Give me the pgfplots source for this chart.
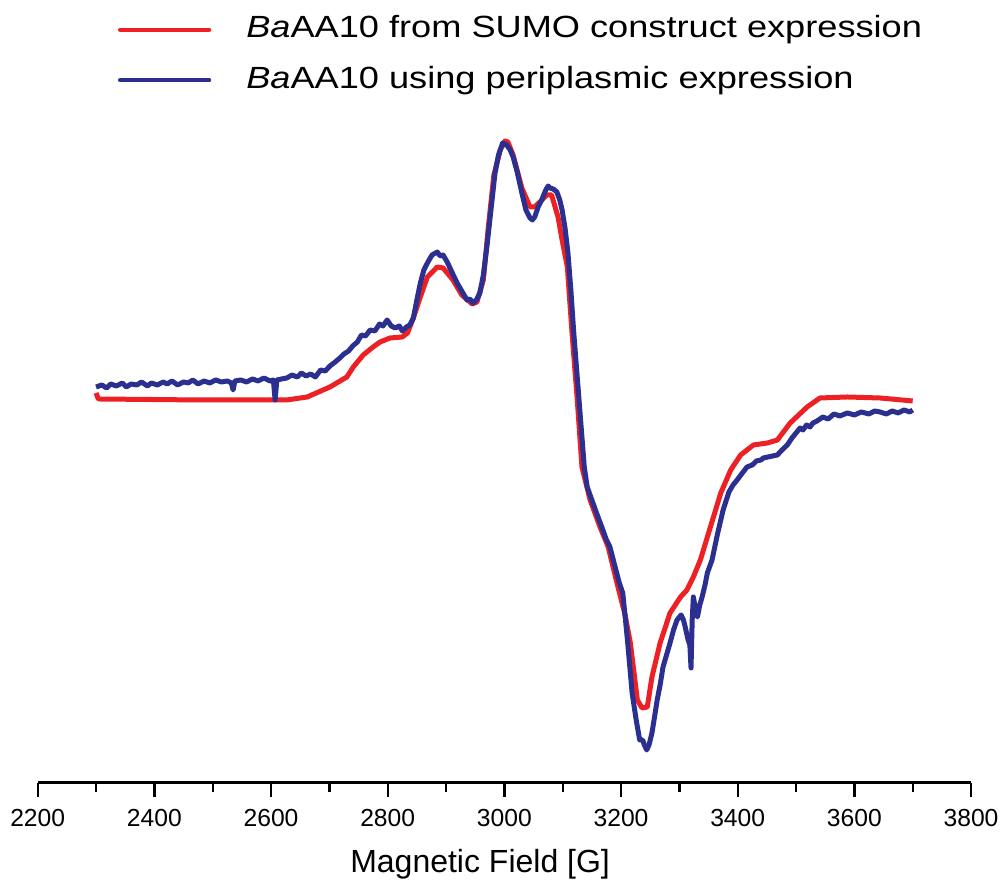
\documentclass[border=0pt]{standalone}
\usepackage{pgfplots}
\pgfplotsset{compat=1.18}
\usepackage{fontspec}
\setmainfont{Liberation Sans}
\newfontfamily\legfont[FakeStretch=1.18]{Liberation Sans}
\definecolor{cred}{RGB}{237,32,36}
\definecolor{cblue}{RGB}{43,48,144}
\begin{document}
\begin{tikzpicture}
\begin{axis}[
  name=ax,
  scale only axis,
  width=280pt, height=234.8pt,
  xmin=2200, xmax=3800, ymin=-782.7, ymax=0,
  axis x line*=bottom, axis y line=none,
  axis line style={line width=0.7pt},
  xtick={2200,2400,...,3800},
  minor x tick num=1,
  tick align=outside,
  major tick length=4.2pt, minor tick length=2.7pt,
  every tick/.style={line width=0.7pt, black},
  scaled x ticks=false,
  /pgf/number format/1000 sep={},
  /pgf/number format/assume math mode=true,
  xticklabel style={font=\fontsize{7.4}{8}\selectfont, inner sep=0pt, yshift=-3.6pt},
  xlabel={Magnetic Field [G]},
  xlabel style={font=\fontsize{9.6}{11}\selectfont, anchor=base, at={(axis description cs:0.474,0)}, yshift=-27pt},
  legend image code/.code={\draw[#1, line width=1.3pt, line cap=round] (0pt,0pt) -- (26.7pt,0pt);},
  legend cell align=left,
  legend style={draw=none, fill=none, inner sep=0pt, outer sep=0pt,
    at={(0.086,0.9297)}, anchor=west, row sep=6.6pt, column sep=10.5pt,
    font=\legfont\fontsize{9.2}{10}\selectfont,
    nodes={inner sep=0pt, text height=6.6pt, text depth=1.9pt}},
]
\addplot[cred, line width=1.5pt, line join=round] table {
2300 -393
2304 -399
2392 -399.5
2478 -400
2564 -400
2627 -400
2662 -397
2701 -387
2730 -377
2741 -367
2758 -355
2775 -347
2787 -342
2804 -338
2825 -337
2834 -333
2844 -318
2856 -297
2868 -277
2885 -267
2895 -268
2912 -280
2927 -295
2945 -304
2953 -302
2964 -280
2972 -230
2982 -175
2993 -150
3001 -141
3006 -142
3015 -155
3030 -188
3044 -207
3052 -207
3073 -195
3081 -195
3092 -217
3099 -240
3108 -267
3116 -333
3125 -400
3133 -467
3147 -500
3164 -527
3178 -547
3193 -583
3207 -615
3216 -643
3228 -700
3236 -708
3245 -707
3253 -677
3267 -643
3284 -613
3302 -597
3313 -590
3324 -577
3336 -560
3348 -537
3371 -493
3388 -470
3405 -455
3427 -445
3451 -443
3468 -440
3490 -423
3519 -407
3541 -398
3588 -397
3644 -398
3700 -401
};
\addlegendentry{\textit{Ba}AA10 from SUMO construct expression}
\addplot[cblue, line width=1.5pt, line join=round] table {
2300 -387
2310 -385
2318 -388
2325 -384
2335 -386
2345 -383
2352 -387
2360 -384
2370 -385
2378 -382
2388 -386
2395 -383
2405 -385
2415 -382
2422 -384
2430 -381
2440 -385
2450 -382
2458 -383
2466 -380
2475 -384
2485 -381
2495 -383
2505 -380
2515 -382
2525 -381
2532 -383
2535 -390
2538 -381
2548 -380
2558 -382
2568 -379
2578 -381
2588 -378
2598 -381
2604 -380
2607 -400
2610 -380
2618 -379
2627 -378
2636 -375
2645 -377
2652 -373
2660 -376
2668 -374
2676 -377
2685 -370
2693 -371
2701 -366
2710 -362
2718 -358
2725 -354
2733 -351
2740 -346
2748 -342
2755 -335
2762 -336
2770 -330
2778 -331
2786 -324
2792 -326
2799 -320
2806 -326
2813 -328
2820 -326
2825 -331
2832 -327
2838 -325
2844 -318
2850 -300
2856 -283
2862 -270
2869 -262
2876 -255
2885 -252
2890 -256
2895 -255
2902 -262
2910 -272
2919 -283
2928 -292
2936 -300
2941 -299
2946 -303
2952 -300
2958 -293
2964 -275
2970 -247
2977 -210
2984 -173
2990 -155
2997 -143
3004 -145
3010 -150
3015 -157
3022 -172
3030 -193
3037 -210
3044 -218
3048 -220
3052 -217
3058 -207
3064 -200
3071 -190
3075 -186
3078 -188
3084 -189
3090 -192
3095 -200
3099 -210
3104 -228
3109 -253
3114 -290
3119 -333
3128 -400
3137 -467
3142 -487
3150 -500
3158 -513
3167 -527
3175 -540
3181 -547
3189 -565
3197 -583
3203 -593
3211 -640
3219 -693
3226 -720
3232 -740
3237 -740
3240 -745
3244 -750
3248 -745
3253 -733
3258 -715
3262 -700
3267 -685
3272 -667
3278 -655
3284 -643
3290 -630
3296 -620
3303 -615
3307 -620
3310 -627
3315 -640
3318 -645
3320 -668
3322 -620
3324 -597
3328 -610
3331 -617
3335 -605
3339 -597
3344 -585
3348 -573
3356 -560
3365 -535
3375 -510
3385 -492
3392 -485
3399 -480
3408 -473
3416 -467
3425 -465
3432 -461
3440 -460
3444 -458
3452 -457
3460 -456
3468 -455
3476 -450
3485 -445
3493 -438
3500 -433
3507 -428
3512 -430
3518 -425
3524 -427
3529 -423
3536 -421
3546 -417
3555 -419
3565 -414
3575 -416
3588 -413
3600 -415
3612 -412
3625 -414
3635 -411
3644 -412
3655 -414
3665 -411
3675 -413
3685 -410
3695 -412
3700 -410
};
\addlegendentry{\textit{Ba}AA10 using periplasmic expression}
\end{axis}
\path ([xshift=-11.31pt,yshift=-30.39pt]ax.south west) rectangle ([xshift=9.9pt]ax.north east);
\end{tikzpicture}
\end{document}
